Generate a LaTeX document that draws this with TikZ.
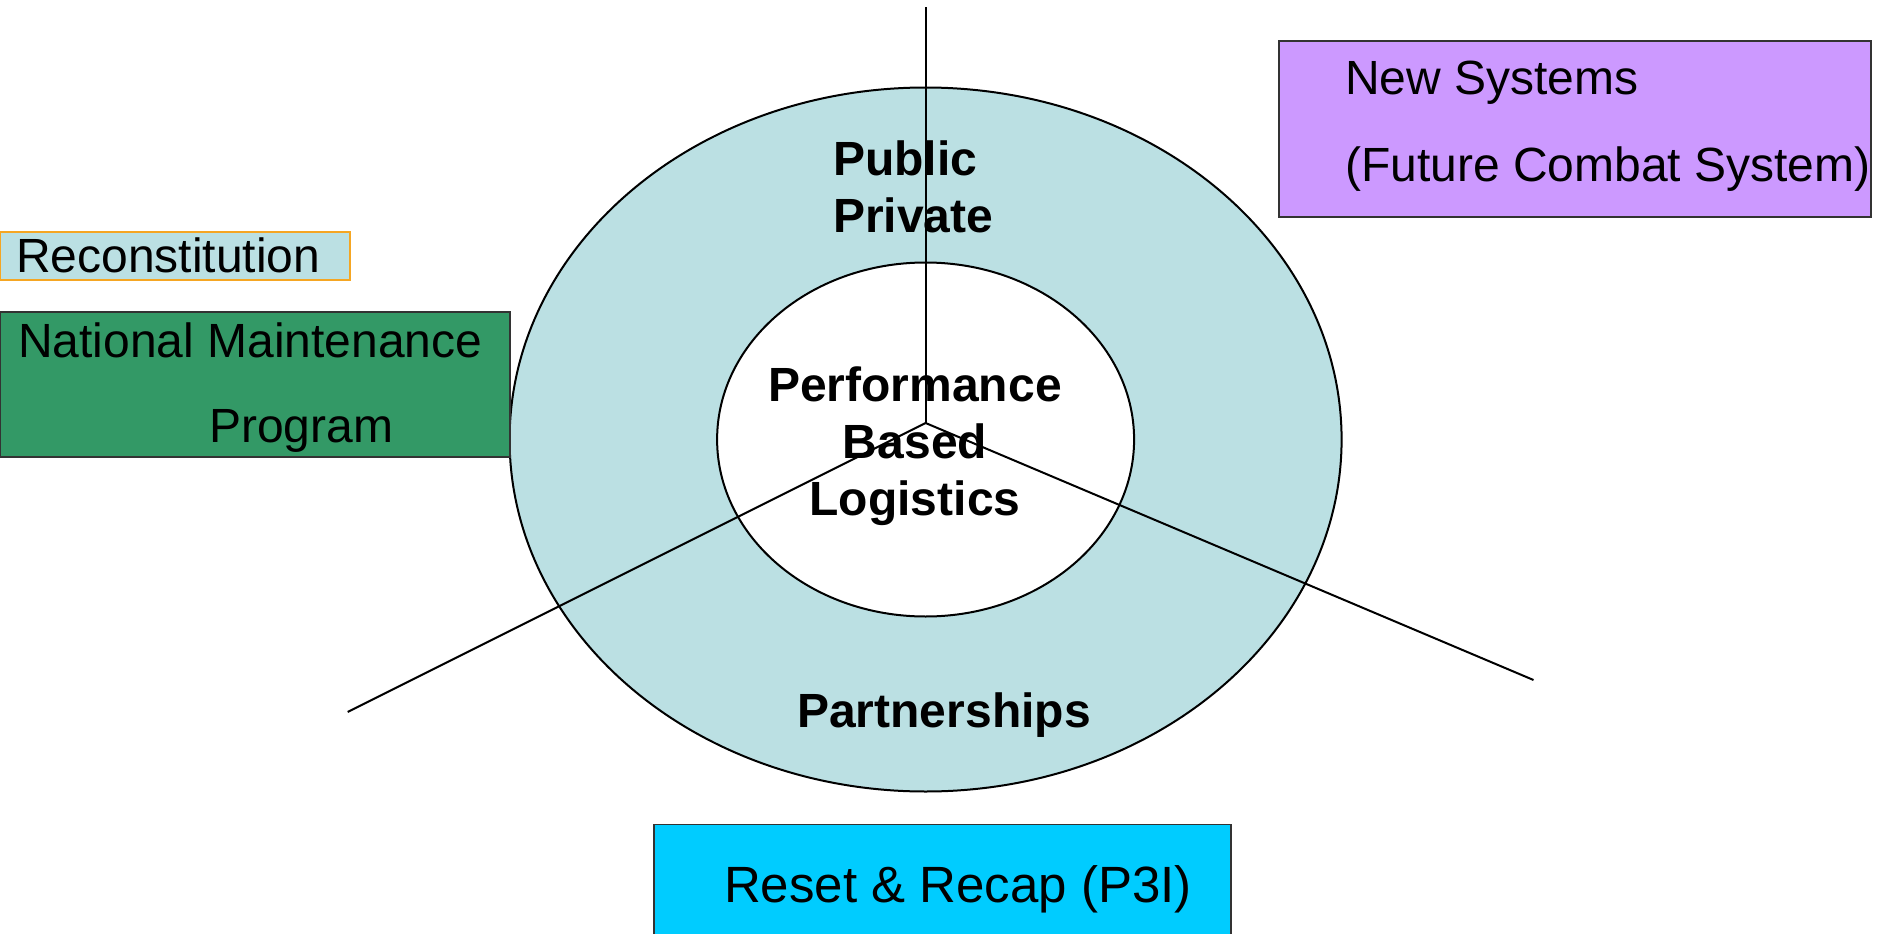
\documentclass[tikz,border=0pt]{standalone}
\usepackage{fontspec}
\setmainfont{Liberation Sans}
\usetikzlibrary{shapes.geometric}
\definecolor{ringblue}{HTML}{BBE0E3}
\definecolor{boxorange}{HTML}{F5A623}
\definecolor{nmpgreen}{HTML}{339966}
\definecolor{newpurple}{HTML}{CC99FF}
\definecolor{resetcyan}{HTML}{00CCFF}
\definecolor{edgegray}{HTML}{333333}
\tikzset{
  reg/.style={font=\fontsize{48}{57}\selectfont, inner sep=0pt, anchor=base west},
  boldlbl/.style={font=\fontsize{48}{57}\selectfont\bfseries, inner sep=0pt, anchor=base},
  panel/.style={draw=edgegray, line width=1.6pt, inner sep=0pt, anchor=north west},
  spoke/.style={draw=black, line width=2pt},
  ring/.style={ellipse, draw=black, line width=2pt, inner sep=0pt}
}
\begin{document}
\begin{tikzpicture}[x=1pt,y=-1pt]
\useasboundingbox (0,0) rectangle (1880,934);
% rings
\node[ring, fill=ringblue, minimum width=832, minimum height=704] (outer) at (925.6,439.5) {};
\node[ring, fill=white, minimum width=417, minimum height=354] (inner) at (925.6,439.5) {};
% side panels
\node[panel, fill=ringblue, draw=boxorange, minimum width=350, minimum height=48] (reconbox) at (-1,231) {};
\node[panel, fill=nmpgreen, minimum width=510, minimum height=145] (nmpbox) at (-1,311) {};
\node[panel, fill=newpurple, minimum width=592, minimum height=176] (newbox) at (1278,40) {};
\node[panel, fill=resetcyan, minimum width=577, minimum height=130] (resetbox) at (653,823.5) {};
% panel texts
\node[reg] (recon) at (16,272) {Reconstitution};
\node[reg] (nmp1) at (18,357) {National Maintenance};
\node[reg] (nmp2) at (209,442) {Program};
\node[reg] (new1) at (1345,95) {New Systems};
\node[reg] (new2) at (1345,181) {(Future Combat System)};
\node[font=\fontsize{51}{60}\selectfont, inner sep=0pt, anchor=base] (reset) at (958,902) {Reset \& Recap (P3I)};
% ring labels
\node[boldlbl, anchor=base west] (pub) at (833,175) {Public};
\node[boldlbl, anchor=base west] (priv) at (833,232) {Private};
\node[boldlbl] (perf1) at (915,401) {Performance};
\node[boldlbl] (perf2) at (915,458) {Based};
\node[boldlbl] (perf3) at (915,515) {Logistics};
\node[boldlbl] (part) at (944,727) {Partnerships};
% spokes
\coordinate (hub) at (925.6,423);
\coordinate (topend) at (925.6,7);
\coordinate (llend) at (347.7,712);
\coordinate (lrend) at (1533.5,680);
\draw[spoke] (hub) -- (topend);
\draw[spoke] (hub) -- (llend);
\draw[spoke] (hub) -- (lrend);
\end{tikzpicture}
\end{document}
